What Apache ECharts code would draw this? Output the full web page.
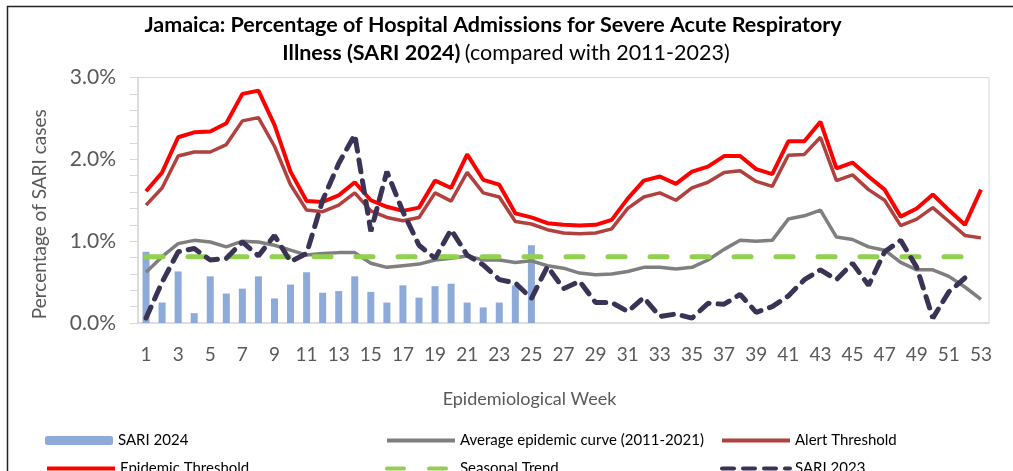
<!DOCTYPE html>
<html>
<head>
<meta charset="utf-8">
<script src="https://cdn.jsdelivr.net/npm/echarts@6/dist/echarts.min.js"></script>
<style>
  html, body { margin: 0; padding: 0; background: #fff; }
  #main { width: 1013px; height: 471px; }
</style>
</head>
<body>
<div id="main"></div>
<script>
// epidemiological weeks
var weeks = ['1','2','3','4','5','6','7','8','9','10','11','12','13','14','15','16','17','18','19','20',
  '21','22','23','24','25','26','27','28','29','30','31','32','33','34','35','36','37','38','39','40',
  '41','42','43','44','45','46','47','48','49','50','51','52','53'];

// SARI 2024 (bars), % of admissions
var sari2024 = [0.87, 0.25, 0.63, 0.12, 0.57, 0.36, 0.42, 0.57, 0.30, 0.47, 0.62, 0.37, 0.39, 0.57, 0.38,
  0.25, 0.46, 0.31, 0.45, 0.48, 0.25, 0.19, 0.25, 0.46, 0.95];

// Average epidemic curve (2011-2021)
var avgCurve = [0.62, 0.81, 0.97, 1.01, 0.99, 0.93, 1.00, 0.99, 0.95, 0.89, 0.83, 0.85, 0.86, 0.86, 0.73,
  0.68, 0.70, 0.72, 0.77, 0.79, 0.82, 0.77, 0.77, 0.74, 0.76, 0.70, 0.67, 0.61, 0.59, 0.60, 0.63, 0.68,
  0.68, 0.66, 0.68, 0.77, 0.90, 1.01, 1.00, 1.01, 1.27, 1.31, 1.38, 1.05, 1.02, 0.93, 0.89, 0.74, 0.65,
  0.65, 0.57, 0.44, 0.29];

// Alert threshold
var alertThr = [1.44, 1.65, 2.04, 2.09, 2.09, 2.18, 2.47, 2.51, 2.16, 1.69, 1.38, 1.36, 1.44, 1.59, 1.37,
  1.29, 1.25, 1.29, 1.59, 1.49, 1.84, 1.59, 1.54, 1.24, 1.21, 1.14, 1.10, 1.09, 1.10, 1.15, 1.40, 1.54,
  1.59, 1.50, 1.65, 1.72, 1.84, 1.86, 1.73, 1.67, 2.05, 2.06, 2.27, 1.74, 1.81, 1.63, 1.50, 1.19, 1.27,
  1.41, 1.24, 1.07, 1.04];

// Epidemic threshold
var epidemicThr = [1.61, 1.84, 2.27, 2.33, 2.34, 2.44, 2.80, 2.84, 2.42, 1.85, 1.49, 1.48, 1.56, 1.72, 1.50,
  1.42, 1.37, 1.41, 1.74, 1.65, 2.06, 1.75, 1.69, 1.34, 1.29, 1.22, 1.20, 1.19, 1.20, 1.26, 1.52, 1.74,
  1.79, 1.70, 1.85, 1.91, 2.04, 2.04, 1.88, 1.82, 2.22, 2.22, 2.46, 1.89, 1.96, 1.79, 1.63, 1.30, 1.40,
  1.57, 1.38, 1.20, 1.63];

// Seasonal trend
var seasonal = [0.81, 0.81, 0.81, 0.81, 0.81, 0.81, 0.81, 0.81, 0.81, 0.81, 0.81, 0.81, 0.81, 0.81, 0.81,
  0.81, 0.81, 0.81, 0.81, 0.81, 0.81, 0.81, 0.81, 0.81, 0.81, 0.81, 0.81, 0.81, 0.81, 0.81, 0.81, 0.81,
  0.81, 0.81, 0.81, 0.81, 0.81, 0.81, 0.81, 0.81, 0.81, 0.81, 0.81, 0.81, 0.81, 0.81, 0.81, 0.81, 0.81,
  0.81, 0.81, 0.81];

// SARI 2023
var sari2023 = [0.06, 0.50, 0.87, 0.91, 0.77, 0.79, 0.99, 0.82, 1.07, 0.75, 0.85, 1.50, 1.95, 2.30, 1.12,
  1.85, 1.36, 0.95, 0.79, 1.14, 0.83, 0.71, 0.53, 0.49, 0.30, 0.69, 0.42, 0.51, 0.25, 0.25, 0.14, 0.31,
  0.08, 0.11, 0.06, 0.24, 0.23, 0.35, 0.13, 0.20, 0.33, 0.53, 0.65, 0.53, 0.73, 0.46, 0.87, 1.01, 0.68,
  0.06, 0.38, 0.55];

var FONT = 'Lato, "Open Sans", sans-serif';
var chart = echarts.init(document.getElementById('main'));

// one legend per entry so the two rows / three columns sit where the original has them
function legendAt(name, left, top, isLine) {
  var l = {
    left: left, top: top, itemWidth: 68, itemHeight: isLine ? 14 : 9, itemGap: 10,
    textStyle: { fontSize: 15, color: '#000', fontFamily: FONT },
    data: [name]
  };
  if (isLine) {
    l.itemStyle = { opacity: 0 };
    l.lineStyle = { width: 4 };
  }
  return l;
}

var option = {
  animation: false,
  textStyle: { fontFamily: FONT },
  title: [{
    text: 'Jamaica: Percentage of Hospital Admissions for Severe Acute Respiratory',
    left: 488, top: 9, textAlign: 'center',
    textStyle: { fontSize: 21.5, fontWeight: 'bold', color: '#000', fontFamily: FONT }
  }, {
    text: '{b|Illness (SARI 2024)} {n|(compared with 2011-2023)}',
    left: 501, top: 37, textAlign: 'center',
    textStyle: {
      rich: {
        b: { fontSize: 21.5, fontWeight: 'bold', color: '#000', fontFamily: FONT },
        n: { fontSize: 21.5, fontWeight: 'normal', color: '#000', fontFamily: FONT }
      }
    }
  }],
  graphic: [{
    type: 'rect', shape: { x: 7.5, y: 6.5, width: 1020, height: 480 },
    style: { fill: 'none', stroke: '#222', lineWidth: 1.5 }, silent: true
  }],
  legend: [
    legendAt('SARI 2024', 40, 428, false),
    legendAt('Epidemic Threshold', 40, 456, true),
    legendAt('Average epidemic curve (2011-2021)', 380, 428, true),
    legendAt('Seasonal Trend', 380, 456, true),
    legendAt('Alert Threshold', 715, 428, true),
    legendAt('SARI 2023', 715, 456, true)
  ],
  grid: {
    left: 138, right: 24, top: 77.5, bottom: 148,
    show: true, borderColor: '#d9d9d9', borderWidth: 1
  },
  xAxis: {
    type: 'category',
    data: weeks,
    boundaryGap: true,
    name: 'Epidemiological Week',
    nameLocation: 'middle',
    nameGap: 67,
    nameTextStyle: { fontSize: 18, color: '#595959', padding: [0, 68, 0, 0] },
    axisLine: { lineStyle: { color: '#d9d9d9', width: 1.5 } },
    axisTick: { alignWithLabel: true, interval: 0, length: 5, lineStyle: { color: '#d9d9d9' } },
    axisLabel: { interval: 1, fontSize: 19, color: '#595959', margin: 22 },
    splitLine: { show: false }
  },
  yAxis: {
    type: 'value',
    min: 0, max: 3, interval: 1,
    name: 'Percentage of SARI cases',
    nameLocation: 'middle',
    nameGap: 89,
    nameTextStyle: { fontSize: 19, color: '#595959', padding: [0, 28, 0, 0] },
    axisLine: { show: true, lineStyle: { color: '#d9d9d9', width: 1.5 } },
    axisTick: { show: true, length: 8, lineStyle: { color: '#d9d9d9' } },
    minorTick: { show: true, splitNumber: 5, length: 8, lineStyle: { color: '#d9d9d9' } },
    axisLabel: {
      fontSize: 21, color: '#595959', margin: 22,
      formatter: function (v) { return v.toFixed(1) + '%'; }
    },
    splitLine: { show: false }
  },
  series: [{
    name: 'SARI 2024', type: 'bar', data: sari2024, barWidth: 7,
    itemStyle: { color: '#8eaad8' }, z: 1
  }, {
    name: 'Average epidemic curve (2011-2021)', type: 'line', data: avgCurve,
    symbol: 'none', lineStyle: { color: '#7f7f7f', width: 3.5 }, itemStyle: { color: '#7f7f7f' }, z: 2
  }, {
    name: 'Alert Threshold', type: 'line', data: alertThr,
    symbol: 'none', lineStyle: { color: '#b0413e', width: 3.5 }, itemStyle: { color: '#b0413e' }, z: 3
  }, {
    name: 'Epidemic Threshold', type: 'line', data: epidemicThr,
    symbol: 'none', lineStyle: { color: '#ff0000', width: 4 }, itemStyle: { color: '#ff0000' }, z: 4
  }, {
    name: 'Seasonal Trend', type: 'line', data: seasonal,
    symbol: 'none', lineStyle: { color: '#92d050', width: 5, type: [17, 25], cap: 'round' },
    itemStyle: { color: '#92d050' }, z: 5
  }, {
    name: 'SARI 2023', type: 'line', data: sari2023,
    symbol: 'none', lineStyle: { color: '#3b3356', width: 5, type: [12, 9], cap: 'round' },
    itemStyle: { color: '#3b3356' }, z: 6
  }]
};

chart.setOption(option);
</script>
</body>
</html>
